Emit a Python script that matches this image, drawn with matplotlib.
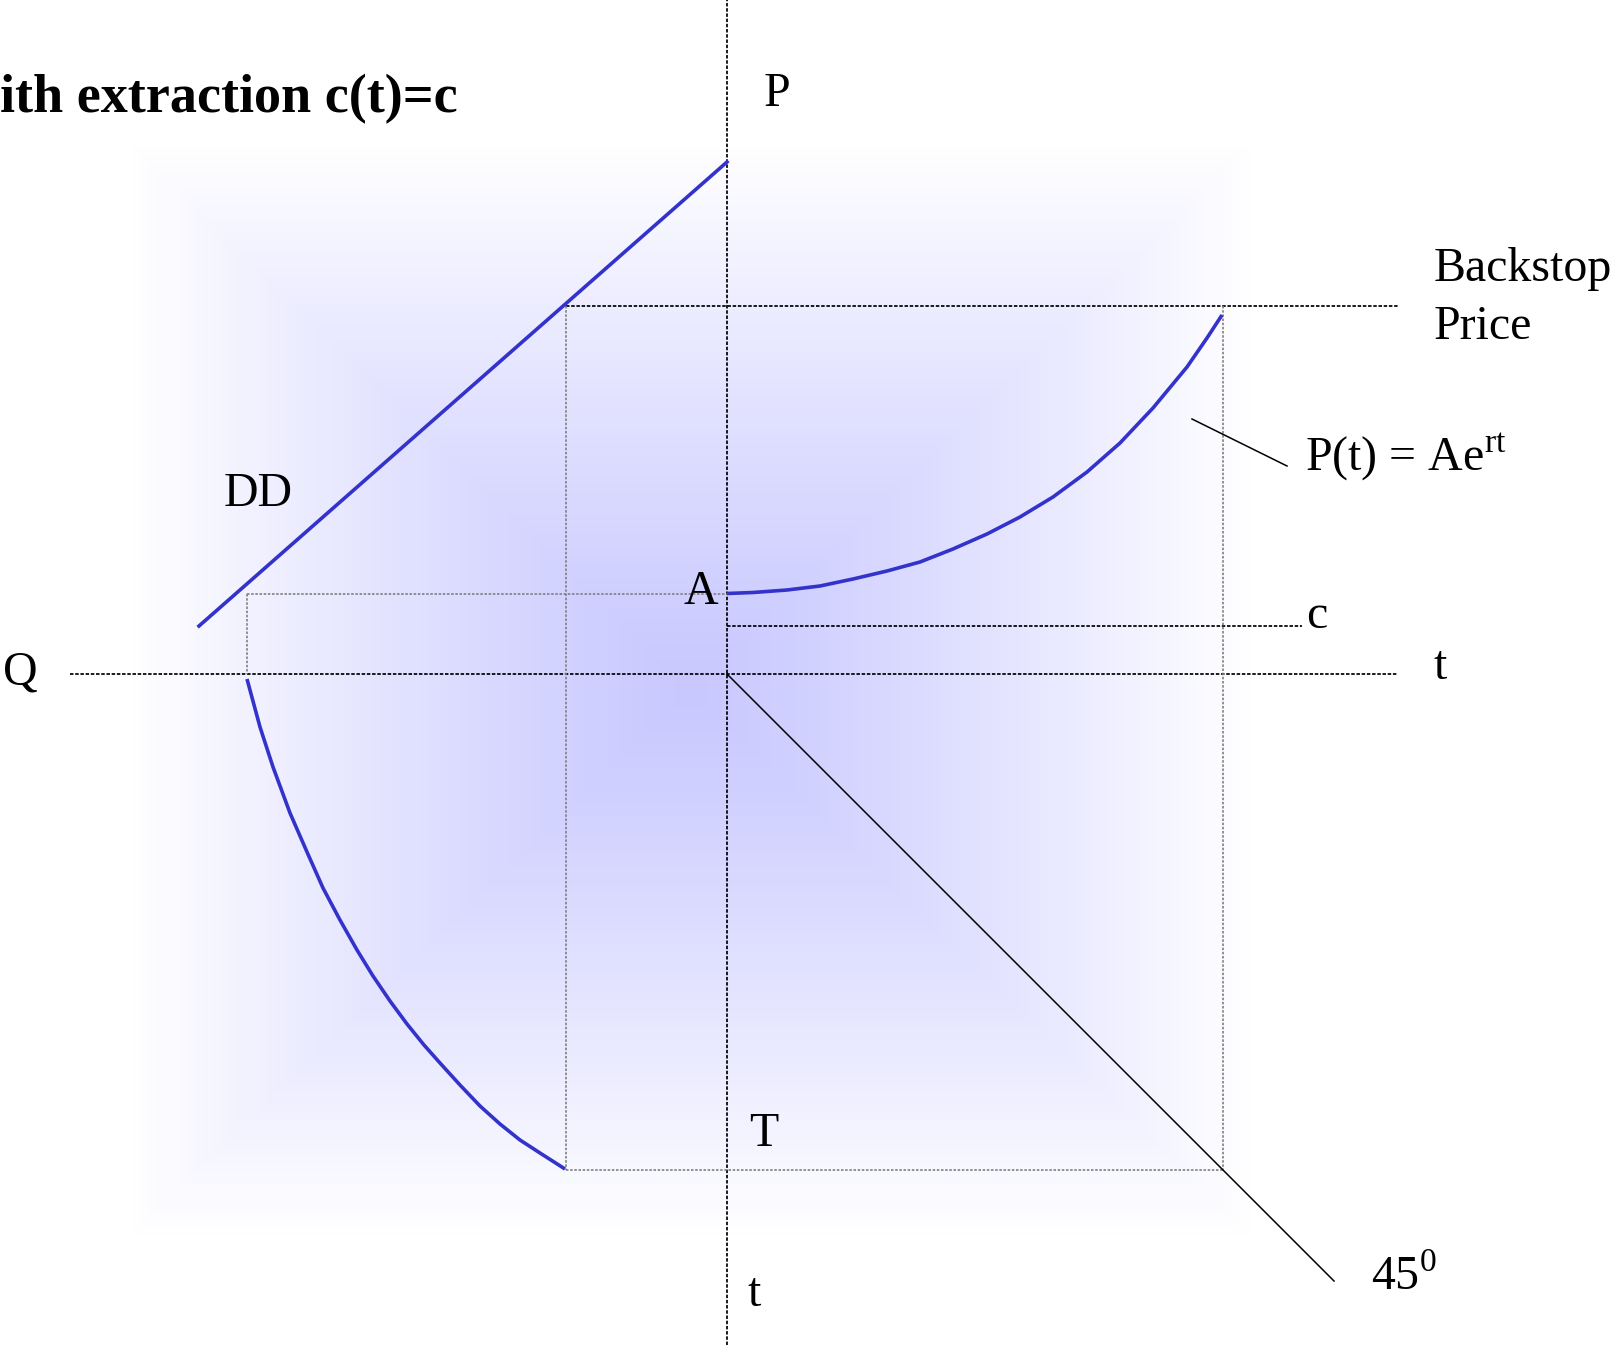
import numpy as np
import matplotlib.pyplot as plt

# diagram values, origin where the Q/t axis meets the P axis (y up)
backstop = 368
cost_c = 48
price_A = 80
T_end = 496
q_at_A = -480
q_at_backstop = -161

dd_x = [-528, 0]
dd_y = [48, 512]

# P(t) = Ae^rt
pt_t = [0, 26, 60, 93, 126, 160, 193, 226, 260, 293, 326, 360, 393, 426, 460, 480, 495]
pt_p = [80.5, 81.5, 84, 88, 95, 103, 112, 125, 140, 157, 177, 202, 231, 266, 307, 336, 359]

# extraction path Q(t) in the lower-left quadrant
qt_q = [-480, -467, -454, -437, -420, -404, -387, -370, -354, -337, -320, -303,
        -287, -267, -247, -227, -207, -187, -162]
qt_t = [-5, -53, -93, -139, -178, -214, -246, -276, -302, -327, -350, -371,
        -389, -411, -432, -450, -466, -479, -495]

line45_x = [0, 607]
line45_y = [0, -607]

plt.rcParams['font.family'] = ['Liberation Serif', 'DejaVu Serif']
plt.rcParams['mathtext.fontset'] = 'custom'
plt.rcParams['mathtext.rm'] = 'Liberation Serif'

fig = plt.figure(figsize=(16.14, 13.45), dpi=100)
ax = fig.add_axes([0, 0, 1, 1])
ax.set_xlim(-727, 887)
ax.set_ylim(-671, 674)
ax.axis('off')

# soft rectangular lavender background
xx, yy = np.meshgrid(np.linspace(-727, 887, 400), np.linspace(674, -671, 340))
d = np.maximum(np.abs(xx + 37) / 560, np.abs(yy + 16) / 545)
t = np.clip(d, 0, 1) ** 1.15
center = np.array([200, 200, 255]) / 255
img = center[None, None, :] * (1 - t[..., None]) + t[..., None]
img = np.clip(img, 0, 1)
ax.imshow(img, extent=[-727, 887, -671, 674], aspect='auto', zorder=0)

black = dict(color='black', lw=1.25, ls=(0, (2, 1)), zorder=2)
grey = dict(color='#808080', lw=1.2, ls=(0, (1.5, 1)), zorder=2)

# axes
ax.plot([0, 0], [-671, 674], **black)
ax.plot([-657, 671], [0, 0], **black)
# backstop price and cost lines
ax.plot([q_at_backstop, 671], [backstop, backstop], **black)
ax.plot([0, 575], [cost_c, cost_c], **black)
# box lines
ax.plot([q_at_backstop, q_at_backstop], [backstop, -T_end], **grey)
ax.plot([T_end, T_end], [backstop, -T_end], **grey)
ax.plot([q_at_backstop, T_end], [-T_end, -T_end], **grey)
ax.plot([q_at_A, 0], [price_A, price_A], **grey)
ax.plot([q_at_A, q_at_A], [price_A, 0], **grey)

# 45 degree line and label pointer
ax.plot(line45_x, line45_y, color='black', lw=1.1, zorder=2)
ax.plot([465, 560], [255, 208], color='black', lw=1.1, zorder=2)

blue = '#3333CC'
ax.plot(dd_x, dd_y, color=blue, lw=2.6, zorder=3)
ax.plot(pt_t, pt_p, color=blue, lw=2.6, zorder=3, solid_capstyle='butt')
ax.plot(qt_q, qt_t, color=blue, lw=2.6, zorder=3, solid_capstyle='butt')

fs = 34.5
ax.text(-727, 562, 'ith extraction c(t)=c', fontsize=39, fontweight='bold', va='baseline')
ax.text(37, 568, 'P', fontsize=fs, va='baseline')
ax.text(707, 393, 'Backstop', fontsize=fs, va='baseline')
ax.text(707, 335, 'Price', fontsize=fs, va='baseline')
ax.text(578, 203, r'P(t) = Ae$^{\mathrm{rt}}$', fontsize=fs, va='baseline')
ax.text(579, 46, 'c', fontsize=fs, va='baseline')
ax.text(707, -5, 't', fontsize=fs, va='baseline')
ax.text(-724, -10, 'Q', fontsize=fs, va='baseline')
ax.text(-503, 168, 'DD', fontsize=fs, va='baseline')
ax.text(-43, 70, 'A', fontsize=fs, va='baseline')
ax.text(22, -472, 'T', fontsize=fs, va='baseline')
ax.text(21, -632, 't', fontsize=fs, va='baseline')
ax.text(644, -616, r'45$^{\mathrm{0}}$', fontsize=fs, va='baseline')

plt.savefig('out.png', dpi=100)
